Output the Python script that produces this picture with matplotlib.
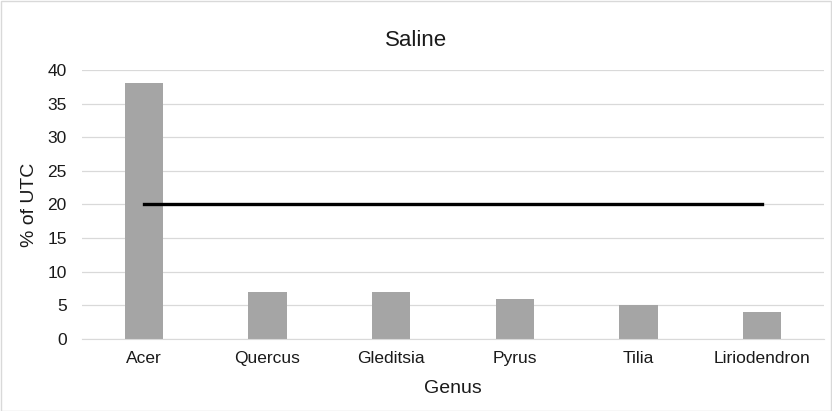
import matplotlib
matplotlib.use("Agg")
import matplotlib.pyplot as plt
from matplotlib.patches import Rectangle

genus = ["Acer", "Quercus", "Gleditsia", "Pyrus", "Tilia", "Liriodendron"]
utc_pct = [38, 7, 7, 6, 5, 4]
threshold = [20, 20, 20, 20, 20, 20]
yticks = [0, 5, 10, 15, 20, 25, 30, 35, 40]

plt.rcParams['font.family'] = ['Liberation Sans', 'DejaVu Sans']
txt = '#1a1a1a'

fig = plt.figure(figsize=(8.32, 4.11), dpi=100)
ax = fig.add_axes([0.0986, 0.1752, 0.8918, 0.6545])

x = range(len(genus))
ax.bar(x, utc_pct, width=0.31, color='#a5a5a5', zorder=2)
ax.plot(x, threshold, color='black', linewidth=2.4, zorder=3)

ax.set_xlim(-0.5, len(genus) - 0.5)
ax.set_ylim(0, 40)
ax.set_yticks(yticks)
ax.set_xticks(list(x))
ax.set_xticklabels(genus)
ax.tick_params(axis='both', length=0, labelsize=12.5, colors=txt)
ax.tick_params(axis='y', pad=11)
ax.tick_params(axis='x', pad=9)
ax.grid(axis='y', color='#d9d9d9', linewidth=0.9, zorder=0)
ax.set_axisbelow(True)
for s in ['top', 'right', 'left']:
    ax.spines[s].set_visible(False)
ax.spines['bottom'].set_color('#d9d9d9')

# title and axis titles
fig.text(0.5, 1 - 46 / 411, 'Saline', fontsize=16, color=txt,
         ha='center', va='baseline')
fig.text(453 / 832, 1 - 393 / 411, 'Genus', fontsize=14, color=txt,
         ha='center', va='baseline')
fig.text(30 / 832, 1 - 205 / 411, '% of UTC', fontsize=14, color=txt,
         ha='center', va='center', rotation=90)

# outer frame
fig.patches.append(Rectangle((0.001, 0.001), 0.998, 0.997, transform=fig.transFigure,
                             fill=False, edgecolor='#d9d9d9', linewidth=1))

fig.savefig('out.png', dpi=100)
